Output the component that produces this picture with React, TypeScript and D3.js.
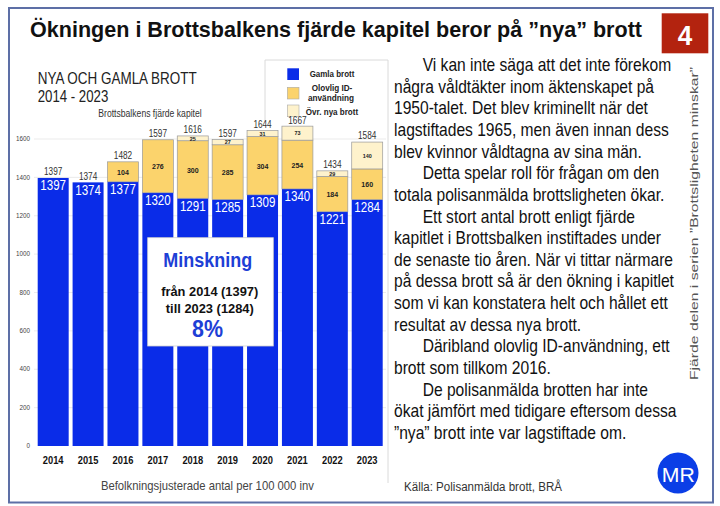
import React from 'react';
import * as d3 from 'd3';

const years = ['2014', '2015', '2016', '2017', '2018', '2019', '2020', '2021', '2022', '2023'];
const gamla = [1397, 1374, 1377, 1320, 1291, 1285, 1309, 1340, 1221, 1284];
const olovlig = [0, 0, 104, 276, 300, 285, 304, 254, 184, 160];
const ovr = [0, 0, 0, 0, 25, 27, 31, 73, 29, 140];
const totals = [1397, 1374, 1482, 1597, 1616, 1597, 1644, 1667, 1434, 1584];
const yTicks = [0, 200, 400, 600, 800, 1000, 1200, 1400, 1600];
const seriesKeys = ['gamla', 'olovlig', 'ovr'];
const seriesColors = ['#0a2ce8', '#fbd36c', '#fef2cc'];
const legendLabels = [['Gamla brott'], ['Olovlig ID-', 'användning'], ['Övr. nya brott']];

const title = 'Ökningen i Brottsbalkens fjärde kapitel beror på ”nya” brott';
const sideText = 'Fjärde delen i serien ”Brottsligheten minskar”';
const source = 'Källa: Polisanmälda brott, BRÅ';
const caption = 'Befolkningsjusterade antal per 100 000 inv';
const boxLines = ['Minskning', 'från 2014 (1397)', 'till 2023 (1284)', '8%'];

const textLines: [string, boolean][] = [
  ['Vi kan inte säga att det inte förekom', true],
  ['några våldtäkter inom äktenskapet på', false],
  ['1950-talet. Det blev kriminellt när det', false],
  ['lagstiftades 1965, men även innan dess', false],
  ['blev kvinnor våldtagna av sina män.', false],
  ['Detta spelar roll för frågan om den', true],
  ['totala polisanmälda brottsligheten ökar.', false],
  ['Ett stort antal brott enligt fjärde', true],
  ['kapitlet i Brottsbalken instiftades under', false],
  ['de senaste tio åren. När vi tittar närmare', false],
  ['på dessa brott så är den ökning i kapitlet', false],
  ['som vi kan konstatera helt och hållet ett', false],
  ['resultat av dessa nya brott.', false],
  ['Däribland olovlig ID-användning, ett', true],
  ['brott som tillkom 2016.', false],
  ['De polisanmälda brotten har inte', true],
  ['ökat jämfört med tidigare eftersom dessa', false],
  ['”nya” brott inte var lagstiftade om.', false],
];

const FONT = "'Liberation Sans', Arial, Helvetica, sans-serif";

export default function App() {
  const x = d3.scaleBand<string>().domain(years).range([37.7, 382.7]).paddingInner(0.112).paddingOuter(0);
  const y = d3.scaleLinear().domain([0, 1600]).range([446, 139]);
  const rows = years.map((yr, i) => ({ year: yr, gamla: gamla[i], olovlig: olovlig[i], ovr: ovr[i] }));
  const stacked = d3.stack<any>().keys(seriesKeys)(rows);
  const bw = x.bandwidth();

  return (
    <svg width={720} height={506} style={{ position: 'absolute', left: 0, top: 0, background: '#fff' }} fontFamily={FONT}>
      <rect x={0} y={0} width={720} height={506} fill="#fff" />
      {/* frame */}
      <rect x={9} y={8} width={704} height={494.5} fill="none" stroke="#5d6fa6" strokeWidth={2} />
      {/* title */}
      <text x={30} y={37} fontSize={22} fontWeight="bold" fill="#111" textLength={612} lengthAdjust="spacingAndGlyphs">{title}</text>
      <rect x={661.7} y={13.3} width={46.6} height={40} fill="#b3230f" />
      <text x={685} y={45} fontSize={28} fontWeight="bold" fill="#fff" textAnchor="middle" textLength={14.5} lengthAdjust="spacingAndGlyphs">4</text>

      {/* chart panel lines */}
      <path d="M265,122 V60 H388 V483" fill="none" stroke="#dadada" strokeWidth={1} />

      <text x={37.7} y={84.3} fontSize={16.5} fill="#222" textLength={159} lengthAdjust="spacingAndGlyphs">NYA OCH GAMLA BROTT</text>
      <text x={37.7} y={101.7} fontSize={16.5} fill="#222" textLength={70.6} lengthAdjust="spacingAndGlyphs">2014 - 2023</text>
      <text x={98.3} y={116.7} fontSize={10.5} fill="#333" textLength={103.4} lengthAdjust="spacingAndGlyphs">Brottsbalkens fjärde kapitel</text>

      {/* legend */}
      {[68.3, 87.3, 105].map((ly, i) => (
        <rect key={'ls' + i} x={287.3} y={ly} width={11.7} height={11.7} fill={seriesColors[i]} stroke={i === 0 ? 'none' : '#aaa'} strokeWidth={0.6} />
      ))}
      <text x={332} y={77.2} fontSize={9.5} fontWeight="bold" fill="#222" textAnchor="middle" textLength={44.7} lengthAdjust="spacingAndGlyphs">{legendLabels[0][0]}</text>
      <text x={332} y={90.5} fontSize={9} fontWeight="bold" fill="#222" textAnchor="middle" textLength={40.6} lengthAdjust="spacingAndGlyphs">{legendLabels[1][0]}</text>
      <text x={331} y={101} fontSize={9} fontWeight="bold" fill="#222" textAnchor="middle" textLength={46} lengthAdjust="spacingAndGlyphs">{legendLabels[1][1]}</text>
      <text x={332} y={114.9} fontSize={9.5} fontWeight="bold" fill="#222" textAnchor="middle" textLength={52.3} lengthAdjust="spacingAndGlyphs">{legendLabels[2][0]}</text>

      {/* gridlines and y ticks */}
      {yTicks.map((t) => (
        <g key={'t' + t}>
          {t > 0 && <line x1={34} x2={386} y1={y(t)} y2={y(t)} stroke="#e6e6e6" strokeWidth={0.8} />}
          <text x={30} y={y(t) + 2.2} fontSize={6.3} fill="#444" textAnchor="end">{t}</text>
        </g>
      ))}

      {/* bars */}
      {stacked.map((s, si) => (
        <g key={'s' + si}>
          {s.map((d, i) => {
            const h = y(d[0]) - y(d[1]);
            if (h <= 0) return null;
            return (
              <rect key={i} x={x(years[i])} y={y(d[1])} width={bw} height={h} fill={seriesColors[si]}
                stroke={si === 0 ? 'none' : '#9a9a9a'} strokeWidth={si === 0 ? 0 : 0.7} />
            );
          })}
        </g>
      ))}

      {/* segment labels */}
      {stacked.map((s, si) => s.map((d, i) => {
        const v = d[1] - d[0];
        if (v <= 0) return null;
        const cx = (x(years[i]) as number) + bw / 2;
        if (si === 0) {
          return (
            <text key={'l' + si + i} x={cx} y={y(d[1]) + 12.5} fontSize={14} fill="#fff" textAnchor="middle" textLength={25.7} lengthAdjust="spacingAndGlyphs">{v}</text>
          );
        }
        const mid = (y(d[0]) + y(d[1])) / 2;
        const fs = si === 1 ? 7.5 : 5.8;
        const digits = String(v).length;
        return (
          <text key={'l' + si + i} x={cx} y={mid + fs * 0.4} fontSize={fs} fontWeight="bold" fill="#222" textAnchor="middle"
            textLength={digits * fs * 0.52} lengthAdjust="spacingAndGlyphs">{v}</text>
        );
      }))}

      {/* total labels */}
      {totals.map((t, i) => (
        <text key={'tot' + i} x={(x(years[i]) as number) + bw / 2} y={y(t) - 2.6} fontSize={10.5} fill="#333" textAnchor="middle" textLength={18.3} lengthAdjust="spacingAndGlyphs">{t}</text>
      ))}

      {/* x labels */}
      {years.map((yr) => (
        <text key={'x' + yr} x={(x(yr) as number) + bw / 2} y={463.5} fontSize={11.5} fontWeight="bold" fill="#111" textAnchor="middle" textLength={20.7} lengthAdjust="spacingAndGlyphs">{yr}</text>
      ))}
      <text x={207.4} y={490} fontSize={13} fill="#444" textAnchor="middle" textLength={213} lengthAdjust="spacingAndGlyphs">{caption}</text>

      {/* box */}
      <rect x={147.7} y={237.7} width={125.6} height={108.3} fill="#fff" stroke="#cfcfcf" strokeWidth={0.8} />
      <text x={207.8} y={266.7} fontSize={19.5} fontWeight="bold" fill="#1e3fd6" textAnchor="middle" textLength={89} lengthAdjust="spacingAndGlyphs">{boxLines[0]}</text>
      <text x={209.7} y={296} fontSize={13} fontWeight="bold" fill="#111" textAnchor="middle" textLength={97} lengthAdjust="spacingAndGlyphs">{boxLines[1]}</text>
      <text x={209.8} y={312.8} fontSize={13} fontWeight="bold" fill="#111" textAnchor="middle" textLength={88} lengthAdjust="spacingAndGlyphs">{boxLines[2]}</text>
      <text x={207.5} y={337.3} fontSize={24} fontWeight="bold" fill="#1e3fd6" textAnchor="middle" textLength={31} lengthAdjust="spacingAndGlyphs">{boxLines[3]}</text>

      {/* right text */}
      <g transform="translate(394,0) scale(0.867,1)">
        {textLines.map(([line, indent], i) => (
          <text key={'p' + i} x={indent ? 33.1 : 0} y={71 + i * 21.65} fontSize={18} fill="#111">{line}</text>
        ))}
      </g>

      {/* side text */}
      <text transform="translate(698,223.5) rotate(-90)" fontSize={11.5} fill="#555" textAnchor="middle" textLength={313} lengthAdjust="spacingAndGlyphs">{sideText}</text>

      <text x={404} y={491} fontSize={12} fill="#333" textLength={158} lengthAdjust="spacingAndGlyphs">{source}</text>
      <circle cx={678} cy={473} r={20.5} fill="#0b3ee6" />
      <text x={678.3} y={481.5} fontSize={21} fill="#fff" textAnchor="middle" textLength={33} lengthAdjust="spacingAndGlyphs">MR</text>
    </svg>
  );
}
